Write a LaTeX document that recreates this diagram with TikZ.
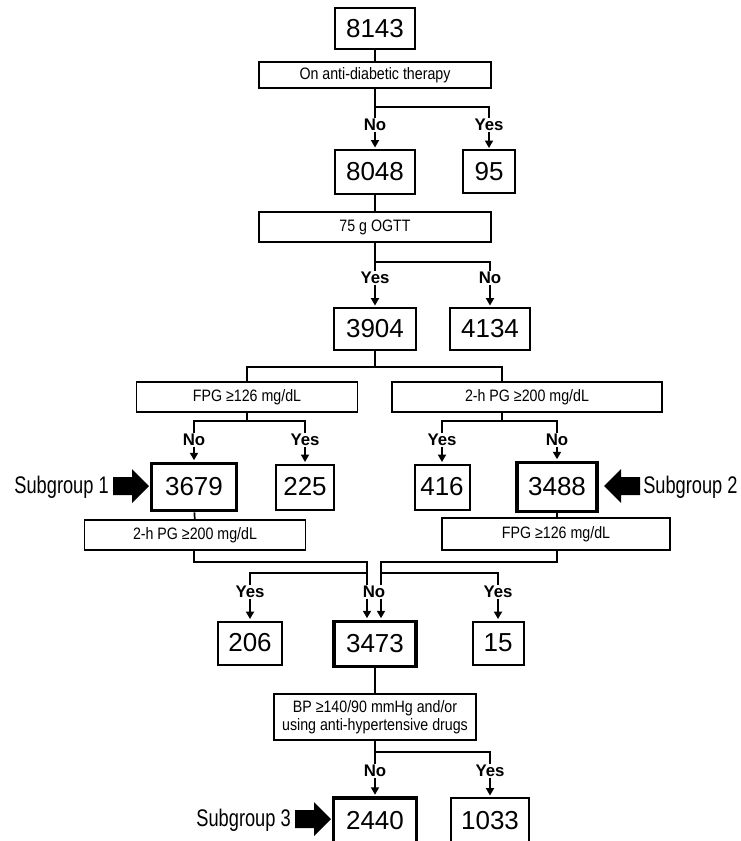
\documentclass[tikz,border=0pt]{standalone}
\usepackage{fontspec}
\setmainfont{Liberation Sans}
\newfontfamily\condfont[FakeStretch=0.86]{Liberation Sans}
\newfontfamily\subfont[FakeStretch=0.76]{Liberation Sans}
\usetikzlibrary{arrows.meta}
\newdimen\px \px=0.75pt
\begin{document}
\begin{tikzpicture}[x=0.75pt,y=-0.75pt,
  numbox/.style={draw, line width=1.5pt, inner sep=0pt, font=\fontsize{19.5}{21}\selectfont},
  keybox/.style={numbox, line width=2.7pt},
  cond/.style={draw, line width=1.1pt, inner sep=0pt, font=\condfont\fontsize{12.4}{13.8}\selectfont, align=center},
  lbl/.style={fill=white, inner sep=0.6pt, font=\bfseries\fontsize{12.6}{13}\selectfont},
  conn/.style={line width=1.3pt},
  arr/.style={line width=1.3pt, -{Triangle[length=5.6pt,width=6pt]}, shorten >=1.1pt},
  sublbl/.style={font=\subfont\fontsize{18}{19}\selectfont, inner sep=0pt},
  blockarrow/.pic={\fill (0,-9) -- (19,-9) -- (19,-17) -- (36,0) -- (19,17) -- (19,9) -- (0,9) -- cycle;}
]
\useasboundingbox (0,0) rectangle (740,841);
\clip (0,0) rectangle (740,841);

% boxes
\node[numbox, minimum width=80\px, minimum height=41\px] (n8143) at (375,29) {8143};
\node[cond, minimum width=232\px, minimum height=26\px] (q1) at (375,75) {On anti-diabetic therapy};
\node[numbox, minimum width=80\px, minimum height=44\px] (n8048) at (375,172) {8048};
\node[numbox, minimum width=52\px, minimum height=43\px] (n95) at (489,172) {95};
\node[cond, minimum width=232\px, minimum height=30\px] (q2) at (375,227) {75 g OGTT};
\node[numbox, minimum width=82\px, minimum height=42\px] (n3904) at (375,329) {3904};
\node[numbox, minimum width=80\px, minimum height=42\px] (n4134) at (490,329) {4134};
\node[cond, minimum width=221\px, minimum height=30\px] (q3) at (247,397) {FPG ≥126 mg/dL};
\node[cond, minimum width=270\px, minimum height=30\px] (q4) at (527,397) {2-h PG ≥200 mg/dL};
\node[keybox, minimum width=85\px, minimum height=47\px] (n3679) at (194,487) {3679};
\node[numbox, minimum width=58\px, minimum height=45\px] (n225) at (305,487) {225};
\node[numbox, minimum width=55\px, minimum height=45\px] (n416) at (442,487) {416};
\node[keybox, minimum width=80\px, minimum height=49\px] (n3488) at (557,487) {3488};
\node[cond, minimum width=221\px, minimum height=30\px] (q5) at (195,535) {2-h PG ≥200 mg/dL};
\node[cond, minimum width=228\px, minimum height=32\px] (q6) at (556,534) {FPG ≥126 mg/dL};
\node[numbox, minimum width=64\px, minimum height=43\px] (n206) at (250,643) {206};
\node[keybox, minimum width=82\px, minimum height=45\px] (n3473) at (375,644) {3473};
\node[numbox, minimum width=51\px, minimum height=43\px] (n15) at (498,643) {15};
\node[cond, minimum width=202\px, minimum height=46\px] (q7) at (375,717) {BP ≥140/90 mmHg and/or\\using anti-hypertensive drugs};
\node[keybox, minimum width=83\px, minimum height=46\px] (n2440) at (375,821) {2440};
\node[numbox, minimum width=78\px, minimum height=46\px] (n1033) at (490,821) {1033};

% subgroup labels
\node[sublbl, anchor=east] (s1) at (109,487) {Subgroup 1};
\pic at (113,486) {blockarrow};
\node[sublbl, anchor=west] (s2) at (643,487) {Subgroup 2};
\pic[xscale=-1] at (640,486) {blockarrow};
\node[sublbl, anchor=east] (s3) at (291,820) {Subgroup 3};
\pic at (295,819) {blockarrow};

% labels
\node[lbl] (noA) at (375,125) {No};
\node[lbl] (yesA) at (489,125) {Yes};
\node[lbl] (yesB) at (375,278) {Yes};
\node[lbl] (noB) at (490,278) {No};
\node[lbl] (noC) at (194,440) {No};
\node[lbl] (yesC) at (305,440) {Yes};
\node[lbl] (yesD) at (442,440) {Yes};
\node[lbl] (noD) at (557,440) {No};
\node[lbl] (yesE) at (250,592) {Yes};
\node[lbl] (noE) at (374,592) {No};
\node[lbl] (yesF) at (498,592) {Yes};
\node[lbl] (noG) at (375,771) {No};
\node[lbl] (yesG) at (490,771) {Yes};

% branch points
\coordinate (b1) at (375,107);
\coordinate (b2) at (375,262);
\coordinate (b3) at (375,367);
\coordinate (b4) at (247,421);
\coordinate (b5) at (502,421);
\coordinate (c6) at (194,562);
\coordinate (j6) at (367,573);
\coordinate (c7) at (557,562);
\coordinate (j7) at (381,573);
\coordinate (b9) at (375,752);

% tree 1
\draw[conn] (n8143) -- (q1);
\draw[conn] (q1.south) -- (b1) -| (yesA.north);
\draw[conn] (b1) -- (noA.north);
\draw[arr] (noA.south) -- (n8048.north);
\draw[arr] (yesA.south) -- (yesA.south |- n95.north);
% tree 2
\draw[conn] (n8048) -- (q2);
\draw[conn] (q2.south) -- (b2) -| (noB.north);
\draw[conn] (b2) -- (yesB.north);
\draw[arr] (yesB.south) -- (n3904.north);
\draw[arr] (noB.south) -- (n4134.north);
% tree 3
\draw[conn] (n3904.south) -- (b3);
\draw[conn] (q3.north) |- (b3) -| (b5 |- q4.north);
% tree 4
\draw[conn] (q3.south) -- (b4);
\draw[conn] (noC.north) |- (b4) -| (yesC.north);
\draw[arr] (noC.south) -- (n3679.north);
\draw[arr] (yesC.south) -- (n225.north);
% tree 5
\draw[conn] (b5 |- q4.south) -- (b5);
\draw[conn] (yesD.north) |- (b5) -| (noD.north);
\draw[arr] (yesD.south) -- (n416.north);
\draw[arr] (noD.south) -- (n3488.north);
% subgroup links
\draw[conn] (n3679) -- (q5);
\draw[conn] (n3488.south) -- (n3488.south |- q6.north);
% tree 6
\draw[conn] (c6 |- q5.south) -- (c6) -| (j6);
\draw[conn] (j6) -| (yesE.north);
\draw[conn] (j6) -- (j6 |- noE.north);
\draw[arr] (yesE.south) -- (n206.north);
\draw[arr] (j6 |- noE.south) -- (j6 |- n3473.north);
% tree 7
\draw[conn] (c7 |- q6.south) -- (c7) -| (j7);
\draw[conn] (j7) -| (yesF.north);
\draw[conn] (j7) -- (j7 |- noE.north);
\draw[arr] (yesF.south) -- (n15.north);
\draw[arr] (j7 |- noE.south) -- (j7 |- n3473.north);
% tree 9
\draw[conn] (n3473) -- (q7);
\draw[conn] (q7.south) -- (b9) -| (yesG.north);
\draw[conn] (b9) -- (noG.north);
\draw[arr] (noG.south) -- (n2440.north);
\draw[arr] (yesG.south) -- (n1033.north);
\end{tikzpicture}
\end{document}
